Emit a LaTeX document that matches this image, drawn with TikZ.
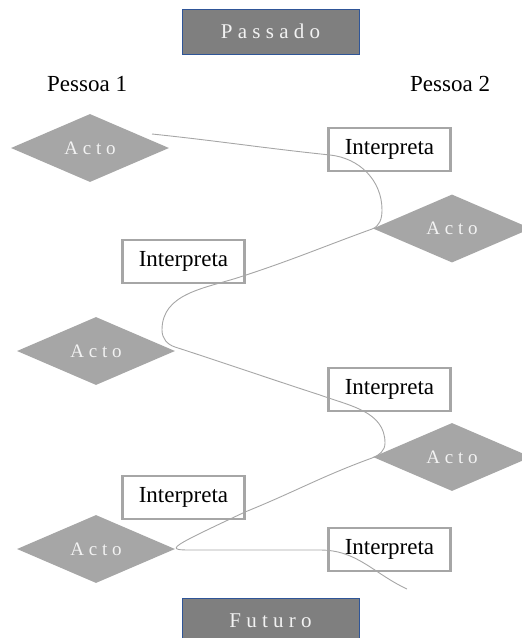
\documentclass[tikz,border=0pt]{standalone}
\usepackage{fontspec}
\setmainfont{Liberation Serif}
\usetikzlibrary{shapes.geometric}
\definecolor{boxgray}{HTML}{A6A6A6}
\definecolor{darkfill}{HTML}{7F7F7F}
\definecolor{bluebord}{HTML}{2F5597}
\definecolor{lighttext}{HTML}{F2F2F2}
\tikzset{
  acto/.style={diamond, fill=boxgray, draw=none, minimum width=158pt, minimum height=68pt, inner sep=0pt, text=lighttext, font=\fontsize{19}{22}\selectfont},
  interp/.style={rectangle, draw=boxgray, line width=2.5pt, fill=white, minimum width=122pt, minimum height=43pt, inner sep=0pt, font=\fontsize{23}{27}\selectfont},
  timebox/.style={rectangle, fill=darkfill, draw=bluebord, line width=1pt, minimum width=177pt, minimum height=45pt, inner sep=0pt, text=lighttext, font=\fontsize{21}{25}\selectfont},
  person/.style={anchor=base west, inner sep=0pt, font=\fontsize{23}{27}\selectfont},
  flow/.style={draw=boxgray, line width=0.9pt}
}
\begin{document}
\begin{tikzpicture}[x=1pt,y=1pt]
\path[use as bounding box] (0,0) rectangle (522,-638);
\clip (0,0) rectangle (522,-638);

\node[timebox] (past) at (270.5,-31.5) {P a s s a d o};
\node[timebox] (future) at (270.5,-620.5) {F u t u r o};

\node[person] (p1) at (47,-91) {Pessoa 1};
\node[person] (p2) at (410,-91) {Pessoa 2};

\node[acto] (a1) at (90,-148) {A c t o};
\node[acto] (a2) at (452,-228.5) {A c t o};
\node[acto] (a3) at (96,-351) {A c t o};
\node[acto] (a4) at (452,-457) {A c t o};
\node[acto] (a5) at (96,-549) {A c t o};

\node[interp] (i1) at (389.5,-149.5) {Interpreta};
\node[interp] (i2) at (183.5,-261.5) {Interpreta};
\node[interp] (i3) at (389.5,-389.5) {Interpreta};
\node[interp] (i4) at (183.5,-497.5) {Interpreta};
\node[interp] (i5) at (389.5,-549.5) {Interpreta};

\coordinate (c0) at (152,-134);
\coordinate (c1) at (330,-155);
\coordinate (c2) at (382,-210);
\coordinate (c3) at (372,-229);
\coordinate (c4) at (240,-277);
\coordinate (c5) at (162,-330);
\coordinate (c6) at (175,-347);
\coordinate (c7) at (320,-395);
\coordinate (c8) at (385,-443);
\coordinate (c9) at (372,-458);
\coordinate (c10) at (245,-512);
\coordinate (c11) at (200,-550);
\coordinate (c12) at (320,-550);
\coordinate (c13) at (407,-589);

\draw[flow] (c0) to[out=-6,in=174] (c1)
  to[out=-6,in=90] (c2)
  to[out=-90,in=20] (c3)
  to[out=200,in=18] (c4)
  to[out=198,in=90] (c5)
  to[out=-90,in=162] (c6)
  to[out=-18,in=162] (c7)
  to[out=-20,in=90] (c8)
  to[out=-90,in=20] (c9)
  to[out=200,in=22] (c10)
  .. controls (160,-552) and (165,-550) .. (c11)
  to[out=0,in=180] (c12)
  to[out=0,in=155] (c13);
\end{tikzpicture}
\end{document}
